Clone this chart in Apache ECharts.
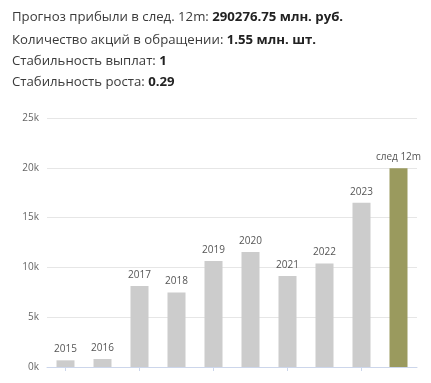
<!DOCTYPE html>
<html><head><meta charset="utf-8">
<script src="https://cdn.jsdelivr.net/npm/echarts@6/dist/echarts.min.js"></script>
<style>html,body{margin:0;padding:0;background:#fff}#c{width:431px;height:383px}</style>
</head><body><div id="c"></div>
<script>
const categories = ['2015','2016','2017','2018','2019','2020','2021','2022','2023','след 12m'];
const values = [670, 800, 8120, 7490, 10640, 11540, 9130, 10400, 16500, 19950];
const yTicks = [0, 5000, 10000, 15000, 20000, 25000];
const infoLines = [
  ['Прогноз прибыли в след. 12m: ', '290276.75 млн. руб.'],
  ['Количество акций в обращении: ', '1.55 млн. шт.'],
  ['Стабильность выплат: ', '1'],
  ['Стабильность роста: ', '0.29']
];
const chart = echarts.init(document.getElementById('c'));
const ff = '"Open Sans", sans-serif';
const lineY = [20, 43, 64, 85];
const graphics = infoLines.map((l, i) => ({
  type: 'text', left: 12, top: lineY[i] - 9,
  style: {
    text: '{a|' + l[0] + '}{b|' + l[1] + '}',
    rich: {
      a: { fontFamily: ff, fontSize: 13.2, fill: '#3a3a3a' },
      b: { fontFamily: ff, fontSize: 13.2, fontWeight: 'bold', fill: '#222' }
    }
  }
}));
chart.setOption({
  animation: false,
  graphic: graphics,
  grid: { left: 47, right: 14, top: 118, bottom: 16, containLabel: false },
  xAxis: {
    type: 'category', data: categories,
    axisLine: { lineStyle: { color: '#ccd6eb' } },
    axisTick: { show: true, alignWithLabel: true, interval: 1, length: 4, lineStyle: { color: '#ccd6eb' } },
    axisLabel: { show: false }
  },
  yAxis: {
    type: 'value', min: yTicks[0], max: yTicks[yTicks.length - 1], interval: 5000,
    axisLabel: { formatter: v => (v / 1000) + 'k', color: '#666', fontFamily: ff, fontSize: 10, margin: 8 },
    splitLine: { lineStyle: { color: '#e6e6e6' } },
    axisLine: { show: false }, axisTick: { show: false }
  },
  series: [{
    type: 'bar', barWidth: 18,
    data: values.map((v, i) => ({
      value: v,
      itemStyle: { color: i === values.length - 1 ? '#9a9a5e' : '#cccccc' }
    })),
    label: {
      show: true, position: 'top', distance: 6,
      formatter: p => categories[p.dataIndex],
      color: '#555', fontFamily: ff, fontSize: 10
    }
  }]
});
</script></body></html>
